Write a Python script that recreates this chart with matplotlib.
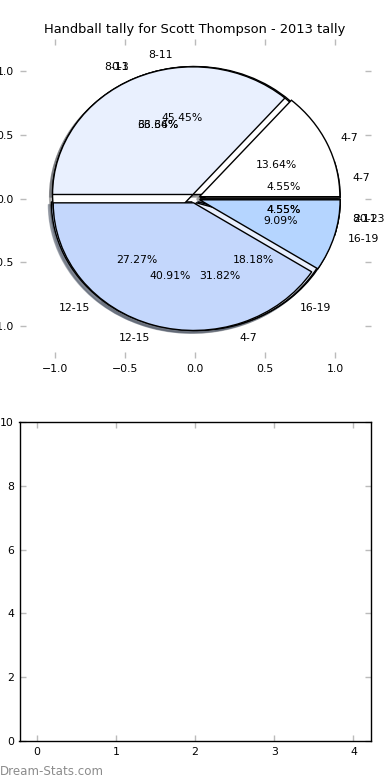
import matplotlib
matplotlib.use('Agg')
import matplotlib.pyplot as plt

title = "Handball tally for Scott Thompson - 2013 tally"
labels_a = ['4-7', '8-11', '12-15', '16-19', '20-23']
values_a = [1, 10, 6, 4, 1]
labels_b = ['0-3', '4-7', '8-11']
values_b = [14, 7, 1]
labels_c = ['4-7', '8-11', '12-15', '16-19']
values_c = [3, 8, 9, 2]
colors = ['#FFFFFF', '#E9F0FE', '#C4D7FC', '#B5D5FF', '#9DC3F5']
pie_ticks = [-1.0, -0.5, 0.0, 0.5, 1.0]
bar_xticks = [0, 1, 2, 3, 4]
bar_yticks = [0, 2, 4, 6, 8, 10]

plt.rcParams['font.family'] = ['DejaVu Sans']
plt.rcParams['font.size'] = 7.8

fig, (ax1, ax2) = plt.subplots(2, 1, figsize=(3.9, 7.8), dpi=100)
fig.subplots_adjust(left=0.05, right=0.95, top=0.95, bottom=0.05, hspace=0.2)

explode = 0.035
for labels, values in [(labels_a, values_a), (labels_b, values_b), (labels_c, values_c)]:
    ax1.pie(values, labels=labels, colors=colors[:len(values)], autopct='%.2f%%',
            explode=[explode] * len(values),
            shadow=dict(ox=-0.015, oy=-0.015, shade=0.55),
            wedgeprops=dict(edgecolor='black', linewidth=1.0),
            textprops=dict(fontsize=7.8))

ax1.set_aspect('auto')
ax1.set_xlim(-1.25, 1.25)
ax1.set_ylim(-1.25, 1.25)
ax1.set_xticks(pie_ticks)
ax1.set_yticks(pie_ticks)
ax1.set_frame_on(False)
ax1.set_title(title, fontsize=9.4, pad=4)

for ax in (ax1, ax2):
    ax.tick_params(direction='in', length=4, width=1, color='#bbbbbb',
                   top=True, right=True, labelsize=7.8, labelcolor='black', pad=4)

ax2.set_xlim(-0.215, 4.215)
ax2.set_ylim(0, 10)
ax2.set_xticks(bar_xticks)
ax2.set_yticks(bar_yticks)
for s in ax2.spines.values():
    s.set_color('black')
    s.set_linewidth(1.0)

fig.text(0.0, 0.006, 'Dream-Stats.com', color='#8c8c8c', fontsize=8.6,
         ha='left', va='baseline')

fig.savefig('out.png', dpi=100)
